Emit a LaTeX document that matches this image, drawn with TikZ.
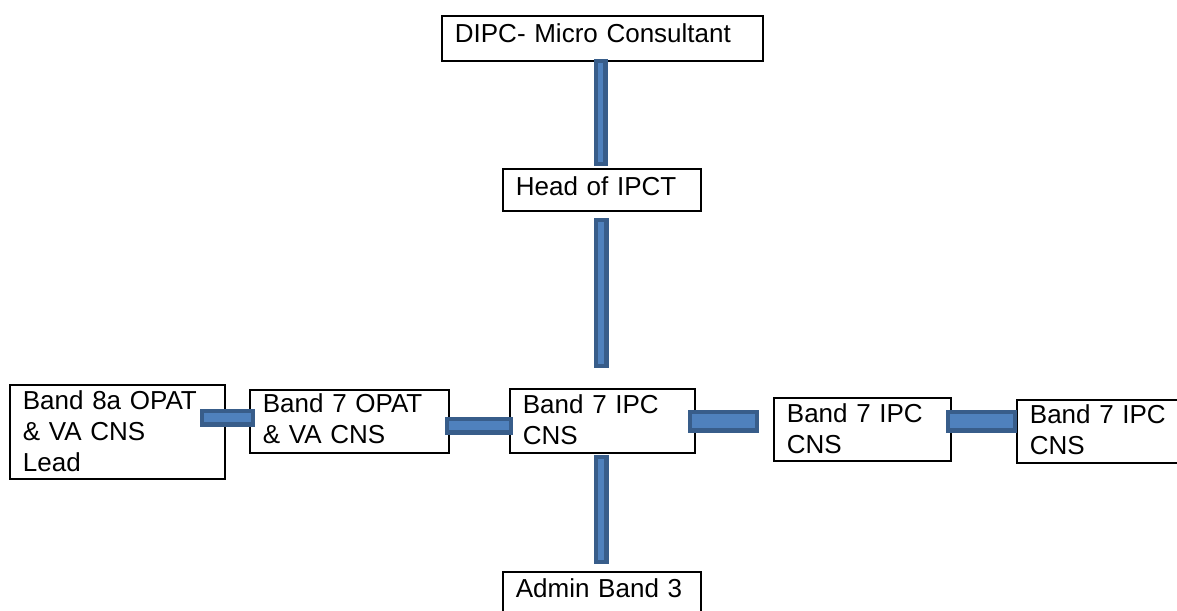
\documentclass[tikz,border=0pt]{standalone}
\usepackage{fontspec}
\setmainfont{Liberation Sans}
\usetikzlibrary{calc}
\definecolor{barfill}{HTML}{4F81BD}
\definecolor{barline}{HTML}{385D8A}
\tikzset{
  orgbox/.style={draw=black, line width=1.8pt, fill=white, anchor=north west,
    inner xsep=13pt, inner ysep=0pt, align=left,
    font=\fontsize{26}{31}\selectfont},
  bar/.style={draw=barline, fill=barfill, line width=4.5pt},
}
\begin{document}
\begin{tikzpicture}[x=1pt,y=-1pt]
\useasboundingbox (0,0) rectangle (1177,610);
\clip (0,0) rectangle (1177,610);
% boxes
\node[orgbox, text width=295pt, text height=27pt, text depth=18pt] (dipc) at (441,15) {DIPC- Micro Consultant};
\node[orgbox, text width=172pt, text height=27pt, text depth=15pt] (head) at (502,168) {Head of IPCT};
\node[orgbox, text width=189pt, text height=25pt, text depth=69pt] (lead) at (9,384) {Band 8a OPAT\\\& VA CNS\\Lead};
\node[orgbox, text width=173pt, text height=23pt, text depth=40pt] (opat) at (249,389) {Band 7 OPAT\\\& VA CNS};
\node[orgbox, text width=159pt, text height=25pt, text depth=39pt] (center) at (509,388) {Band 7 IPC\\CNS};
\node[orgbox, text width=151pt, text height=25pt, text depth=38pt] (ra) at (773,397) {Band 7 IPC\\CNS};
\node[orgbox, text width=153pt, text height=24pt, text depth=39pt] (rb) at (1016,399) {Band 7 IPC\\CNS};
\node[orgbox, text width=172pt, text height=26pt, text depth=28pt] (admin) at (502,571) {Admin Band 3};
% connectors
\draw[bar] ($(dipc.south)+(-6.25,-0.75)$) rectangle ($(head.north)+(3.75,-4.25)$);
\draw[bar] ($(head.south)+(-5.75,8.25)$) rectangle ($(center.north)+(4.25,-22.25)$);
\draw[bar] ($(center.south)+(-6.25,3.25)$) rectangle ($(admin.north)+(4.75,-9.25)$);
\draw[bar] ($(lead.east)+(-23.75,-20.75)$) rectangle ($(opat.west)+(3.75,3.25)$);
\draw[bar] ($(opat.east)+(-2.75,-2.25)$) rectangle ($(center.west)+(1.75,11.75)$);
\draw[bar] ($(center.east)+(-5.75,-8.75)$) rectangle ($(ra.west)+(-16.25,1.25)$);
\draw[bar] ($(ra.east)+(-3.75,-17.25)$) rectangle ($(rb.west)+(-1.25,-0.75)$);
\end{tikzpicture}
\end{document}
